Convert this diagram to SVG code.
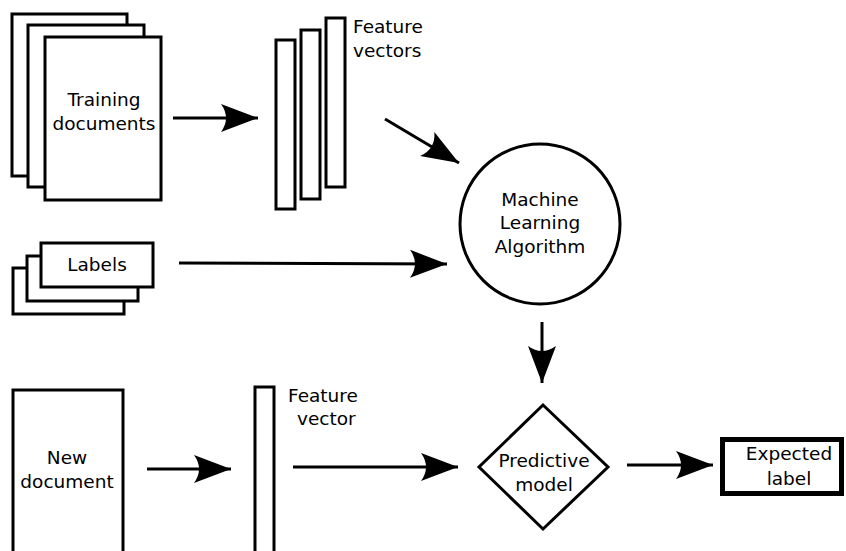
<svg xmlns="http://www.w3.org/2000/svg" width="846" height="551" viewBox="0 0 846 551">
  <style>
    .box { fill: #fff; stroke: #000; stroke-width: 3; }
    .thick { fill: #fff; stroke: #000; stroke-width: 5; }
    .lbl { font-family: "DejaVu Sans", "Liberation Sans", sans-serif; font-size: 18.5px; fill: #000; text-anchor: middle; }
    .side { font-family: "DejaVu Sans", "Liberation Sans", sans-serif; font-size: 18.5px; fill: #000; text-anchor: start; }
    .edge { fill: none; stroke: #000; stroke-width: 3; marker-end: url(#head); }
  </style>
  <defs>
    <marker id="head" viewBox="-38 -15 39 30" refX="0" refY="0" markerWidth="39" markerHeight="30" markerUnits="userSpaceOnUse" orient="auto">
      <path d="M0,0 L-37,-14 Q-27,0 -37,14 Z" fill="#000"/>
    </marker>
  </defs>

  <rect width="846" height="551" fill="#fff"/>

  <!-- stack of training documents -->
  <g id="training-documents">
    <rect class="box" x="12" y="14" width="115" height="162"/>
    <rect class="box" x="28" y="25" width="116" height="162"/>
    <rect class="box" x="45" y="37" width="116" height="163"/>
    <text class="lbl" x="104" y="106">Training</text>
    <text class="lbl" x="104" y="130">documents</text>
  </g>

  <!-- stack of feature vectors -->
  <g id="feature-vectors">
    <rect class="box" x="276" y="40" width="19" height="169"/>
    <rect class="box" x="301" y="30" width="19" height="169"/>
    <rect class="box" x="326" y="18" width="19" height="169"/>
    <text class="side" x="353" y="33">Feature</text>
    <text class="side" x="353" y="57">vectors</text>
  </g>

  <!-- stack of labels -->
  <g id="labels">
    <rect class="box" x="13" y="268" width="111" height="46"/>
    <rect class="box" x="27" y="256" width="111" height="45"/>
    <rect class="box" x="41" y="243" width="112" height="44"/>
    <text class="lbl" x="97" y="271">Labels</text>
  </g>

  <!-- learning algorithm -->
  <g id="ml-algorithm">
    <circle class="box" cx="540" cy="224" r="80"/>
    <text class="lbl" x="540" y="206">Machine</text>
    <text class="lbl" x="540" y="229">Learning</text>
    <text class="lbl" x="540" y="253">Algorithm</text>
  </g>

  <!-- new document -->
  <g id="new-document">
    <rect class="box" x="13" y="390" width="110" height="175"/>
    <text class="lbl" x="67" y="464">New</text>
    <text class="lbl" x="67" y="488">document</text>
  </g>

  <!-- single feature vector -->
  <g id="feature-vector">
    <rect class="box" x="255" y="387" width="19" height="180"/>
    <text class="side" x="288" y="402">Feature</text>
    <text class="side" x="297" y="425">vector</text>
  </g>

  <!-- predictive model -->
  <g id="predictive-model">
    <path class="box" d="M543,405 L608,467 L543,529 L479,467 Z"/>
    <text class="lbl" x="544" y="467">Predictive</text>
    <text class="lbl" x="544" y="491">model</text>
  </g>

  <!-- expected label -->
  <g id="expected-label">
    <rect class="thick" x="722.5" y="439.5" width="119" height="54"/>
    <text class="lbl" x="789" y="460">Expected</text>
    <text class="lbl" x="789" y="485">label</text>
  </g>

  <!-- connectors -->
  <g id="connectors">
    <line class="edge" x1="173" y1="118" x2="258" y2="118"/>
    <line class="edge" x1="385" y1="119" x2="459" y2="163"/>
    <line class="edge" x1="179" y1="263" x2="447" y2="264"/>
    <line class="edge" x1="542" y1="322" x2="542" y2="383"/>
    <line class="edge" x1="147" y1="469" x2="231" y2="469"/>
    <line class="edge" x1="293" y1="467" x2="458" y2="467"/>
    <line class="edge" x1="627" y1="465" x2="713" y2="465"/>
  </g>
</svg>
